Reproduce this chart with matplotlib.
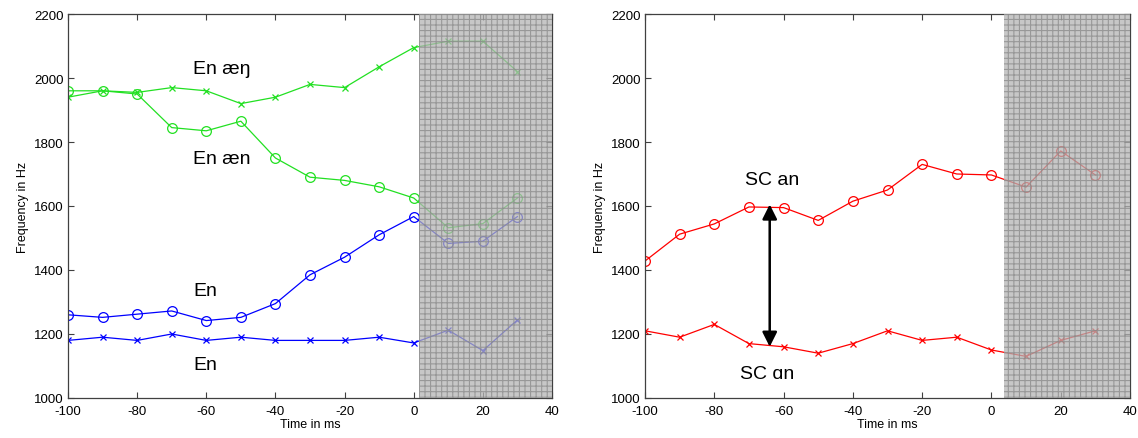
import matplotlib
matplotlib.use("Agg")
import matplotlib.pyplot as plt
from matplotlib.patches import Rectangle

plt.rcParams['font.family'] = ['Liberation Sans', 'DejaVu Sans']
plt.rcParams['axes.unicode_minus'] = False
plt.rcParams['hatch.linewidth'] = 0.8

time_ms = [-100, -90, -80, -70, -60, -50, -40, -30, -20, -10, 0, 10, 20, 30]

en_aeng = [1940, 1960, 1955, 1970, 1960, 1920, 1940, 1980, 1970, 2035, 2095, 2115, 2115, 2020]
en_aen = [1960, 1960, 1950, 1845, 1835, 1865, 1750, 1690, 1680, 1660, 1625, 1532, 1545, 1625]
en_o = [1260, 1252, 1262, 1272, 1242, 1252, 1295, 1385, 1440, 1510, 1567, 1483, 1490, 1567]
en_x = [1180, 1190, 1180, 1200, 1180, 1190, 1180, 1180, 1180, 1190, 1172, 1212, 1148, 1244]

sc_an = [1428, 1512, 1544, 1597, 1595, 1555, 1615, 1650, 1730, 1700, 1697, 1659, 1772, 1697]
sc_scan = [1210, 1190, 1230, 1170, 1160, 1140, 1170, 1210, 1180, 1190, 1150, 1130, 1180, 1210]

xticks = [-100, -80, -60, -40, -20, 0, 20, 40]
yticks = [1000, 1200, 1400, 1600, 1800, 2000, 2200]

fig = plt.figure(figsize=(11.38, 4.39), dpi=100)
ax1 = fig.add_axes([68/1138, 40/439, 484/1138, 384/439])
ax2 = fig.add_axes([645/1138, 40/439, 485/1138, 384/439])

green = '#22e022'
lw = 0.9

def style(ax, shade_start):
    ax.set_xlim(-100, 40)
    ax.set_ylim(1000, 2200)
    ax.set_xticks(xticks)
    ax.set_yticks(yticks)
    ax.tick_params(direction='in', top=True, right=True, labelsize=9.5,
                   length=4, width=0.8, color='#404040')
    ax.tick_params(axis='x', pad=5)
    ax.tick_params(axis='y', pad=3)
    for s in ax.spines.values():
        s.set_color('#404040')
        s.set_linewidth(0.9)
    ax.set_xlabel('Time in ms', fontsize=9, labelpad=1)
    ax.set_ylabel('Frequency in Hz', fontsize=9, labelpad=4)
    rect = Rectangle((shade_start, 1000), 40 - shade_start, 1200,
                     facecolor='#b4b4b4', edgecolor='#888888', hatch='+++',
                     linewidth=0, alpha=0.74, zorder=5)
    ax.add_patch(rect)

ax1.plot(time_ms, en_aeng, color=green, marker='x', ms=4, lw=lw, mew=0.9)
ax1.plot(time_ms, en_aen, color=green, marker='o', ms=7, lw=lw, mfc='none', mew=0.9)
ax1.plot(time_ms, en_o, color='#0000ff', marker='o', ms=7, lw=lw, mfc='none', mew=0.9)
ax1.plot(time_ms, en_x, color='#0000ff', marker='x', ms=4, lw=lw, mew=0.9)
style(ax1, 1.5)

tkw = dict(fontsize=14, va='center', ha='left', zorder=6)
ax1.text(-63.8, 2030, 'En æŋ', **tkw)
ax1.text(-63.8, 1748, 'En æn', **tkw)
ax1.text(-63.8, 1337, 'En', **tkw)
ax1.text(-63.8, 1106, 'En', **tkw)

ax2.plot(time_ms, sc_an, color='#ff0000', marker='o', ms=7, lw=lw, mfc='none', mew=0.9)
ax2.plot(time_ms, sc_scan, color='#ff0000', marker='x', ms=4, lw=lw, mew=0.9)
style(ax2, 3.5)

ax2.text(-71, 1684, 'SC an', **tkw)
ax2.text(-72.5, 1078, 'SC ɑn', **tkw)
ax2.annotate('', xy=(-64, 1605), xytext=(-64, 1160),
             arrowprops=dict(arrowstyle='<|-|>', color='black', lw=1.8,
                             mutation_scale=22, shrinkA=0, shrinkB=0))

fig.savefig('out.png', dpi=100)
